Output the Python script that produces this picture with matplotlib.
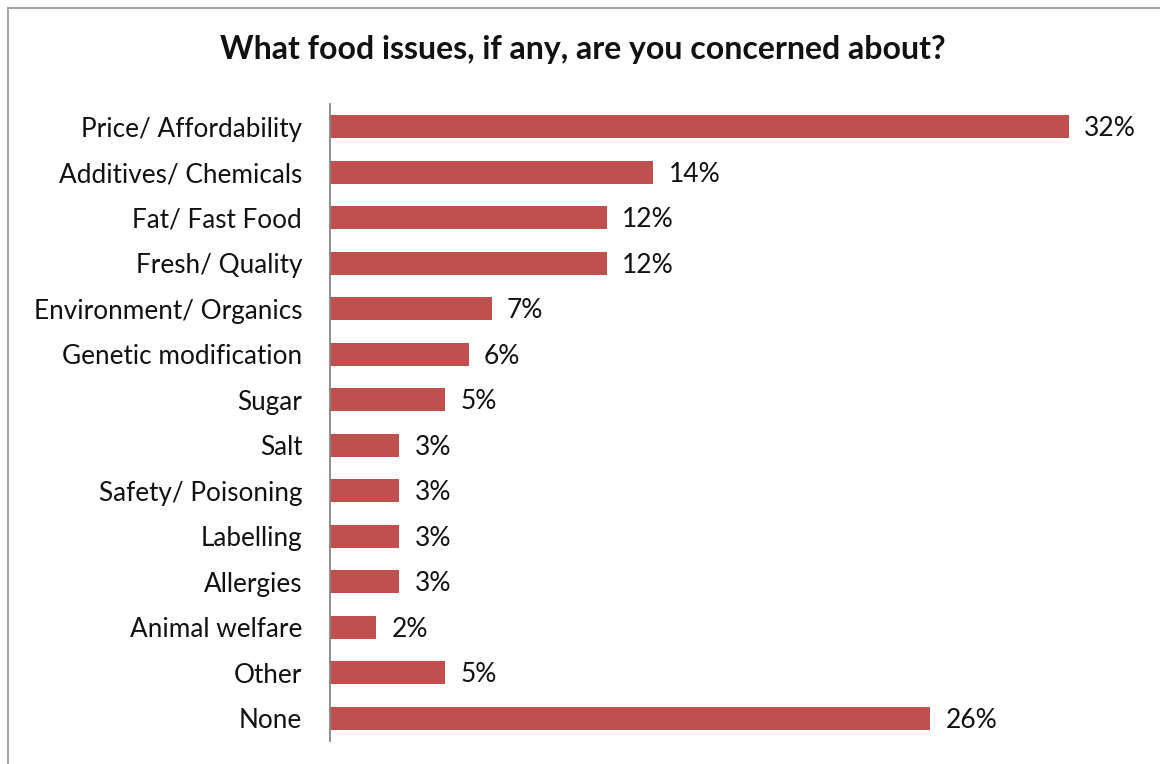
import matplotlib.pyplot as plt
from matplotlib.patches import Rectangle

categories = ['Price/ Affordability', 'Additives/ Chemicals', 'Fat/ Fast Food',
              'Fresh/ Quality', 'Environment/ Organics', 'Genetic modification',
              'Sugar', 'Salt', 'Safety/ Poisoning', 'Labelling', 'Allergies',
              'Animal welfare', 'Other', 'None']
values = [32, 14, 12, 12, 7, 6, 5, 3, 3, 3, 3, 2, 5, 26]

plt.rcParams['font.family'] = ['Lato', 'DejaVu Sans']

fig = plt.figure(figsize=(11.6, 7.64), dpi=100)

# outer frame of the chart area
fig.patches.append(Rectangle((8 / 1160, -0.01), 1.1, 1 - 8 / 764 + 0.01,
                             transform=fig.transFigure, fill=False,
                             edgecolor='#a6a6a6', linewidth=1.5))

ax = fig.add_axes([330 / 1160, 1 - 741 / 764, (1138 - 330) / 1160, (741 - 104) / 764])

pos = list(range(len(categories)))
ax.barh(pos, values, height=0.5, color='#C0504D')
ax.set_ylim(len(categories) - 0.5, -0.5)
ax.set_xlim(0, 35)

ax.set_yticks(pos)
ax.set_yticklabels(categories, fontsize=18.8, color='#111111')
ax.tick_params(axis='y', length=0, pad=20)
ax.set_xticks([])

for s in ['top', 'right', 'bottom']:
    ax.spines[s].set_visible(False)
ax.spines['left'].set_color('#868686')
ax.spines['left'].set_linewidth(1.3)

for p, v in zip(pos, values):
    ax.annotate(f'{v}%', (v, p), xytext=(11, -1.5), textcoords='offset points',
                va='center', ha='left', fontsize=19, color='#111111')

fig.text(583 / 1160, 1 - 50 / 764, 'What food issues, if any, are you concerned about?',
         ha='center', va='center', fontsize=23, fontweight='bold', color='#111111')

fig.savefig('out.png', dpi=100)
